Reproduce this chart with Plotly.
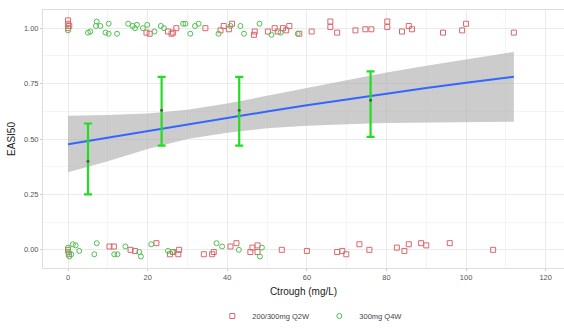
import plotly.graph_objects as go

# Responders (EASI50 = 1) and non-responders (EASI50 = 0) by trough concentration
q2w_top_x = [0, 0, 0.3, 0, 19.7, 20.5, 25.1, 26.4, 27.2, 26.0, 34.5, 38.3, 39.1, 40.4, 41.2,
             46.7, 46.9, 50.2, 51.9, 52.7, 54.0, 54.8, 55.6, 58.1, 61.2, 65.9, 65.9, 67.6,
             72.2, 74.7, 76.2, 80.2, 80.2, 83.9, 85.6, 86.4, 94.2, 99.0, 100.0, 112.0]
q2w_top_y = [1.035, 1.02, 1.01, 1.0, 0.98, 0.975, 0.985, 0.98, 1.0, 0.975, 1.0, 0.99, 1.01,
             0.995, 1.02, 0.97, 0.985, 0.985, 1.0, 0.985, 1.0, 0.99, 1.01, 0.975, 0.985, 1.03,
             1.005, 0.98, 0.99, 0.995, 0.995, 1.03, 1.005, 0.985, 1.01, 0.995, 0.98, 0.99,
             1.02, 0.98]
q2w_bot_x = [0, 0.2, 10.4, 11.5, 15.7, 16.8, 22.2, 25.6, 26.4, 27.7, 27.9, 34.1, 36.2, 36.6,
             40.8, 42.3, 45.8, 46.3, 47.6, 47.6, 53.7, 60.0, 67.6, 68.9, 69.9, 73.2, 75.7,
             82.6, 84.5, 85.6, 88.7, 90.0, 95.9, 106.8]
q2w_bot_y = [0.0, -0.02, 0.015, 0.015, 0.0, -0.005, 0.03, -0.02, -0.01, -0.02, 0.0, -0.02,
             -0.02, -0.01, 0.015, 0.03, -0.01, 0.01, 0.02, -0.01, 0.0, -0.005, -0.01, -0.005,
             -0.02, 0.025, 0.0, 0.01, -0.005, 0.025, 0.03, 0.02, 0.03, 0.0]

q4w_top_x = [0, 5.0, 5.6, 7.2, 7.0, 8.1, 9.4, 10.2, 10.2, 12.3, 15.1, 16.2, 16.8, 17.3, 18.8,
             19.9, 21.7, 23.3, 24.1, 28.9, 29.5, 30.7, 31.9, 32.8, 37.8, 40.8, 43.3, 44.2,
             48.1, 51.1, 53.4, 57.7]
q4w_top_y = [0.99, 0.98, 0.985, 1.03, 1.01, 1.01, 0.98, 1.02, 0.975, 0.975, 1.02, 1.01, 1.0,
             1.015, 1.0, 1.015, 0.985, 1.01, 1.0, 1.02, 1.02, 0.975, 1.01, 1.02, 0.975, 1.01,
             1.01, 0.975, 1.02, 0.97, 0.98, 0.975]
q4w_bot_x = [0, 0, 0.3, 0.8, 1.2, 1.9, 2.8, 6.6, 7.2, 11.6, 12.4, 14.4, 17.9, 18.3, 20.9,
             25.1, 26.2, 37.3, 38.7, 42.9, 48.2, 48.7]
q4w_bot_y = [-0.01, 0.01, -0.03, -0.02, 0.025, 0.02, -0.005, -0.02, 0.03, -0.02, -0.02,
             0.015, -0.01, -0.03, 0.025, -0.005, -0.01, 0.03, 0.015, 0.0, -0.03, 0.01]

# Logistic fit and its confidence band
fit_x = [0, 10, 20, 30, 40, 50, 60, 70, 80, 90, 100, 112]
fit_y = [0.476, 0.506, 0.536, 0.566, 0.595, 0.624, 0.652, 0.679, 0.705, 0.730, 0.754, 0.781]
fit_hi = [0.605, 0.608, 0.615, 0.632, 0.660, 0.695, 0.730, 0.765, 0.800, 0.830, 0.860, 0.893]
fit_lo = [0.350, 0.400, 0.455, 0.500, 0.528, 0.548, 0.560, 0.567, 0.572, 0.575, 0.577, 0.578]

# Observed response rate by concentration bin, with 95% CI
bin_x = [5.0, 23.5, 43.0, 76.0]
bin_mean = [0.40, 0.63, 0.63, 0.675]
bin_lo = [0.25, 0.47, 0.47, 0.51]
bin_hi = [0.57, 0.78, 0.78, 0.805]

RED = "#D9686C"
GREEN = "#4FC04F"

fig = go.Figure()

fig.add_trace(go.Scatter(x=fit_x + fit_x[::-1], y=fit_hi + fit_lo[::-1], fill="toself",
                         fillcolor="rgba(170,170,170,0.6)", line=dict(width=0),
                         hoverinfo="skip", showlegend=False))
fig.add_trace(go.Scatter(x=fit_x, y=fit_y, mode="lines", line=dict(color="#3366FF", width=2),
                         showlegend=False))

fig.add_trace(go.Scatter(x=q2w_top_x + q2w_bot_x, y=q2w_top_y + q2w_bot_y, mode="markers",
                         name="200/300mg Q2W",
                         marker=dict(symbol="square-open", size=5, color=RED,
                                     line=dict(width=1, color=RED))))
fig.add_trace(go.Scatter(x=q4w_top_x + q4w_bot_x, y=q4w_top_y + q4w_bot_y, mode="markers",
                         name="300mg Q4W",
                         marker=dict(symbol="circle-open", size=5, color=GREEN,
                                     line=dict(width=1, color=GREEN))))

fig.add_trace(go.Scatter(
    x=bin_x, y=bin_mean, mode="markers",
    marker=dict(size=3, color="#555555"),
    error_y=dict(type="data", symmetric=False,
                 array=[h - m for h, m in zip(bin_hi, bin_mean)],
                 arrayminus=[m - l for m, l in zip(bin_mean, bin_lo)],
                 color="#22DD22", thickness=2.2, width=4),
    showlegend=False))

axis_common = dict(showgrid=True, gridcolor="#EBEBEB", gridwidth=1,
                   minor=dict(showgrid=True, gridcolor="#F4F4F4", gridwidth=0.5),
                   showline=True, linecolor="#DDDDDD", linewidth=1, mirror=True,
                   zeroline=False, ticks="outside", ticklen=2, tickcolor="#CCCCCC",
                   tickfont=dict(size=7.5, color="#555555"))

fig.update_xaxes(range=[-6.3, 124.6], tickvals=[0, 20, 40, 60, 80, 100, 120],
                 minor_tickvals=[10, 30, 50, 70, 90, 110],
                 title=dict(text="Ctrough (mg/L)", font=dict(size=10, color="#222222"),
                            standoff=6),
                 **axis_common)
fig.update_yaxes(range=[-0.082, 1.082], tickvals=[0, 0.25, 0.5, 0.75, 1.0],
                 ticktext=["0.00", "0.25", "0.50", "0.75", "1.00"],
                 minor_tickvals=[0.125, 0.375, 0.625, 0.875],
                 title=dict(text="EASI50", font=dict(size=10, color="#222222"), standoff=6),
                 **axis_common)

fig.update_layout(
    width=564, height=331,
    margin=dict(l=43, r=0, t=10, b=58),
    plot_bgcolor="white", paper_bgcolor="white",
    font=dict(family="Liberation Sans, Arial, sans-serif"),
    legend=dict(orientation="h", x=0.325, xanchor="left", y=-0.186, yanchor="middle",
                font=dict(size=7.5, color="#444444"), itemwidth=30,
                entrywidth=62, entrywidthmode="pixels"),
)

fig.write_html("out.html")
